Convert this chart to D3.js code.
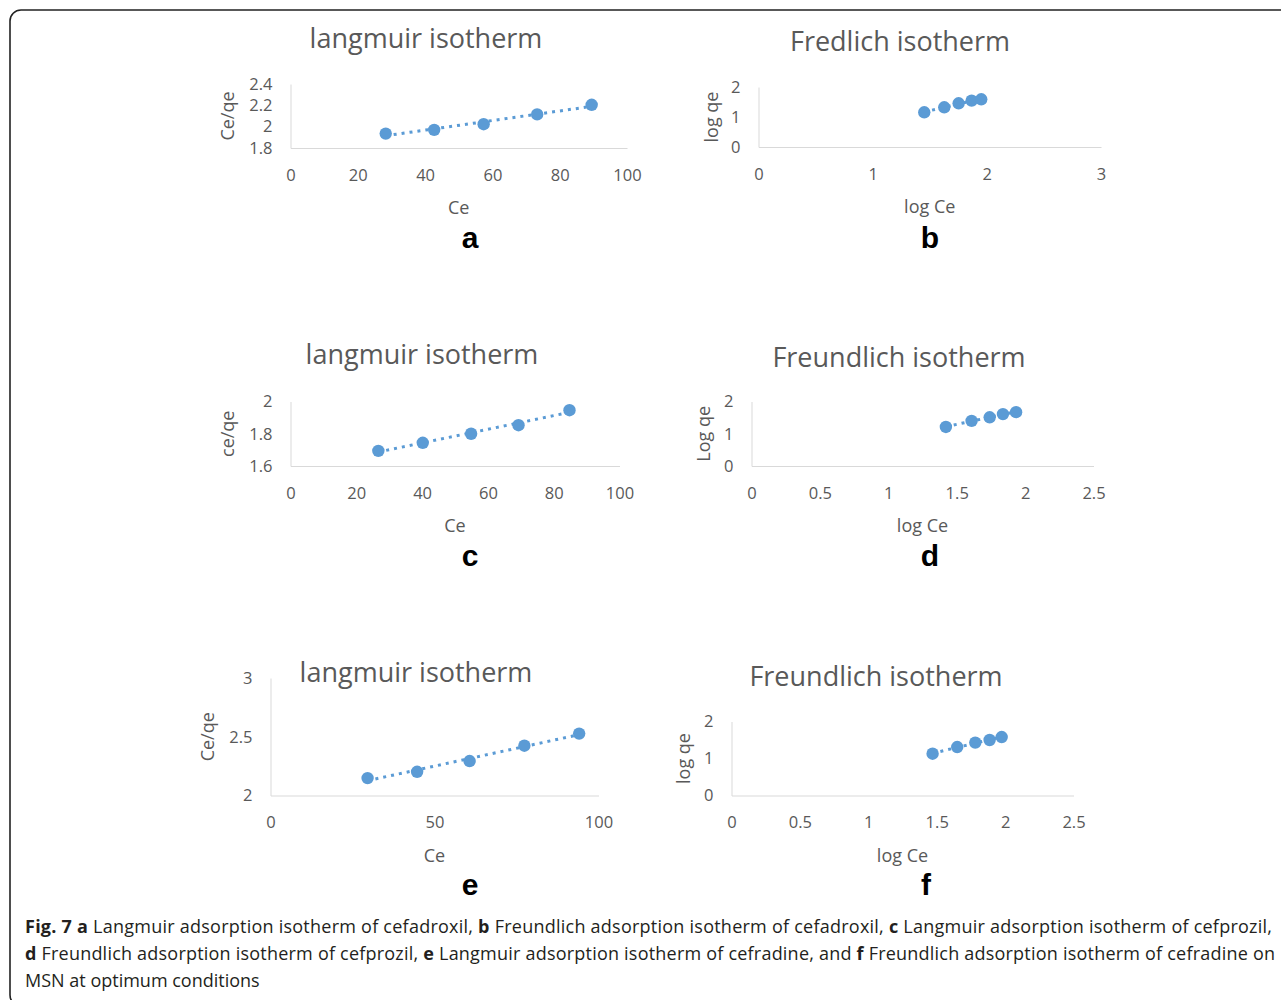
<!DOCTYPE html>
<html>
<head>
<meta charset="utf-8">
<script src="https://cdn.jsdelivr.net/npm/d3@7"></script>
<style>
  body { margin: 0; background: #fff; }
  svg { display: block; }
</style>
</head>
<body>
<div id="chart"></div>
<script>
// Data

// a: Langmuir, cefadroxil
const aCe = [28.3, 42.7, 57.4, 73.3, 89.5];
const aCeQe = [1.935, 1.97, 2.023, 2.115, 2.205];
// b: Freundlich, cefadroxil
const bLogCe = [1.452, 1.627, 1.753, 1.867, 1.951];
const bLogQe = [1.157, 1.323, 1.457, 1.547, 1.59];
// c: Langmuir, cefprozil
const cCe = [26.7, 40.2, 54.9, 69.3, 84.8];
const cCeQe = [1.694, 1.744, 1.8, 1.853, 1.946];
// d: Freundlich, cefprozil
const dLogCe = [1.421, 1.609, 1.741, 1.838, 1.934];
const dLogQe = [1.21, 1.4, 1.51, 1.61, 1.67];
// e: Langmuir, cefradine
const eCe = [29.6, 44.7, 60.7, 77.4, 94.1];
const eCeQe = [2.148, 2.202, 2.293, 2.424, 2.527];
// f: Freundlich, cefradine
const fLogCe = [1.47, 1.65, 1.782, 1.887, 1.975];
const fLogQe = [1.13, 1.31, 1.43, 1.5, 1.58];

// Tick labels
const aXTicks = [0, 20, 40, 60, 80, 100];
const aYTicks = [1.8, 2, 2.2, 2.4];
const bXTicks = [0, 1, 2, 3];
const bYTicks = [0, 1, 2];
const cXTicks = [0, 20, 40, 60, 80, 100];
const cYTicks = [1.6, 1.8, 2];
const dXTicks = [0, 0.5, 1, 1.5, 2, 2.5];
const dYTicks = [0, 1, 2];
const eXTicks = [0, 50, 100];
const eYTicks = [2, 2.5, 3];
const fXTicks = [0, 0.5, 1, 1.5, 2, 2.5];
const fYTicks = [0, 1, 2];

const titles = ['langmuir isotherm', 'Fredlich isotherm', 'langmuir isotherm',
  'Freundlich isotherm', 'langmuir isotherm', 'Freundlich isotherm'];
const xTitles = ['Ce', 'log Ce', 'Ce', 'log Ce', 'Ce', 'log Ce'];
const yTitles = ['Ce/qe', 'log qe', 'ce/qe', 'Log qe', 'Ce/qe', 'log qe'];
const letters = ['a', 'b', 'c', 'd', 'e', 'f'];

const captionLines = [
  [['Fig. 7 ', true], ['a', true], [' Langmuir adsorption isotherm of cefadroxil, ', false], ['b', true],
   [' Freundlich adsorption isotherm of cefadroxil, ', false], ['c', true],
   [' Langmuir adsorption isotherm of cefprozil,', false]],
  [['d', true], [' Freundlich adsorption isotherm of cefprozil, ', false], ['e', true],
   [' Langmuir adsorption isotherm of cefradine, and ', false], ['f', true],
   [' Freundlich adsorption isotherm of cefradine on', false]],
  [['MSN at optimum conditions', false]]
];

// Layout of each panel (plot box in px, title / letter positions)
const layout = [
  { l: 290.5, r: 627, t: 84, b: 148, tx: 426, ty: 48, lx: 470, ly: 248, ytx: 228 },
  { l: 758.5, r: 1101, t: 87, b: 147, tx: 900, ty: 51, lx: 930, ly: 248, ytx: 712 },
  { l: 290.5, r: 619.5, t: 401.5, b: 466, tx: 422, ty: 364, lx: 470, ly: 566, ytx: 228 },
  { l: 751.5, r: 1093.5, t: 401.5, b: 466, tx: 899, ty: 367, lx: 930, ly: 566, ytx: 704 },
  { l: 270.5, r: 598.5, t: 678, b: 795.5, tx: 416, ty: 682, lx: 470, ly: 895, ytx: 208 },
  { l: 731.5, r: 1073.5, t: 721.5, b: 795.5, tx: 876, ty: 686, lx: 926, ly: 895, ytx: 684 }
];

const xs = [aCe, bLogCe, cCe, dLogCe, eCe, fLogCe];
const ys = [aCeQe, bLogQe, cCeQe, dLogQe, eCeQe, fLogQe];
const xTicks = [aXTicks, bXTicks, cXTicks, dXTicks, eXTicks, fXTicks];
const yTicks = [aYTicks, bYTicks, cYTicks, dYTicks, eYTicks, fYTicks];

const blue = '#5B9BD5';
const grey = '#595959';
const font = "'Open Sans', sans-serif";

let width = 1281;
let height = 1000;

let svg = d3.select('#chart').append('svg').attr('width', width).attr('height', height);

// frame
svg.append('rect')
  .attr('x', 10).attr('y', 10)
  .attr('width', 1300).attr('height', 996)
  .attr('rx', 11)
  .style('fill', 'none')
  .style('stroke', '#222')
  .style('stroke-width', 1.6);

function fit(xv, yv) {
  let mx = d3.mean(xv);
  let my = d3.mean(yv);
  let sxy = d3.sum(xv, (v, i) => (v - mx) * (yv[i] - my));
  let sxx = d3.sum(xv, v => (v - mx) * (v - mx));
  let k = sxy / sxx;
  return v => my + k * (v - mx);
}

function drawPanel(i) {
  let p = layout[i];
  let xt = xTicks[i];
  let yt = yTicks[i];

  let x = d3.scaleLinear().domain([xt[0], xt[xt.length - 1]]).range([p.l, p.r]);
  let y = d3.scaleLinear().domain([yt[0], yt[yt.length - 1]]).range([p.b, p.t]);

  let g = svg.append('g');

  let fmt = v => String(v);

  let gx = g.append('g')
    .attr('transform', 'translate(0,' + p.b + ')')
    .call(d3.axisBottom(x).tickValues(xt).tickFormat(fmt).tickSize(0).tickSizeOuter(0).tickPadding(21));

  let gy = g.append('g')
    .attr('transform', 'translate(' + p.l + ',0)')
    .call(d3.axisLeft(y).tickValues(yt).tickFormat(fmt).tickSize(0).tickSizeOuter(0).tickPadding(18));

  [gx, gy].forEach(a => {
    a.select('.domain').style('stroke', '#D9D9D9').style('stroke-width', 1);
    a.selectAll('text')
      .style('font-family', font)
      .style('font-size', '16.5px')
      .style('fill', grey);
  });

  // trendline
  let f = fit(xs[i], ys[i]);
  let x0 = d3.min(xs[i]);
  let x1 = d3.max(xs[i]);
  g.append('line')
    .attr('x1', x(x0)).attr('y1', y(f(x0)))
    .attr('x2', x(x1)).attr('y2', y(f(x1)))
    .style('stroke', blue)
    .style('stroke-width', 3)
    .style('stroke-dasharray', '3,5');

  g.selectAll('circle')
    .data(xs[i].map((v, j) => [v, ys[i][j]]))
    .enter()
    .append('circle')
    .attr('cx', d => x(d[0]))
    .attr('cy', d => y(d[1]))
    .attr('r', 6.2)
    .style('fill', blue);

  // titles
  g.append('text')
    .attr('x', p.tx).attr('y', p.ty)
    .attr('text-anchor', 'middle')
    .style('font-family', font)
    .style('font-size', '27px')
    .style('fill', grey)
    .text(titles[i]);

  g.append('text')
    .attr('x', (p.l + p.r) / 2).attr('y', p.b + 66)
    .attr('text-anchor', 'middle')
    .style('font-family', font)
    .style('font-size', '18px')
    .style('fill', grey)
    .text(xTitles[i]);

  g.append('text')
    .attr('transform', 'translate(' + (p.ytx + 6) + ',' + (p.t + p.b) / 2 + ') rotate(-90)')
    .attr('text-anchor', 'middle')
    .style('font-family', font)
    .style('font-size', '18px')
    .style('fill', grey)
    .text(yTitles[i]);

  g.append('text')
    .attr('x', p.lx).attr('y', p.ly)
    .attr('text-anchor', 'middle')
    .style('font-family', "'Liberation Sans', Arial, sans-serif")
    .style('font-weight', 'bold')
    .style('font-size', '30px')
    .style('fill', '#000')
    .text(letters[i]);
}

for (let i = 0; i < 6; i++) drawPanel(i);

// caption
let capY = [933, 960, 987];
captionLines.forEach((line, k) => {
  let t = svg.append('text')
    .attr('x', 25).attr('y', capY[k])
    .style('font-family', font)
    .style('font-size', '18px')
    .style('fill', '#231f20');
  if (k < 2) t.attr('textLength', k == 0 ? 1247 : 1250).attr('lengthAdjust', 'spacing');
  line.forEach(s => {
    t.append('tspan')
      .style('font-weight', s[1] ? 'bold' : 'normal')
      .text(s[0]);
  });
});
</script>
</body>
</html>
